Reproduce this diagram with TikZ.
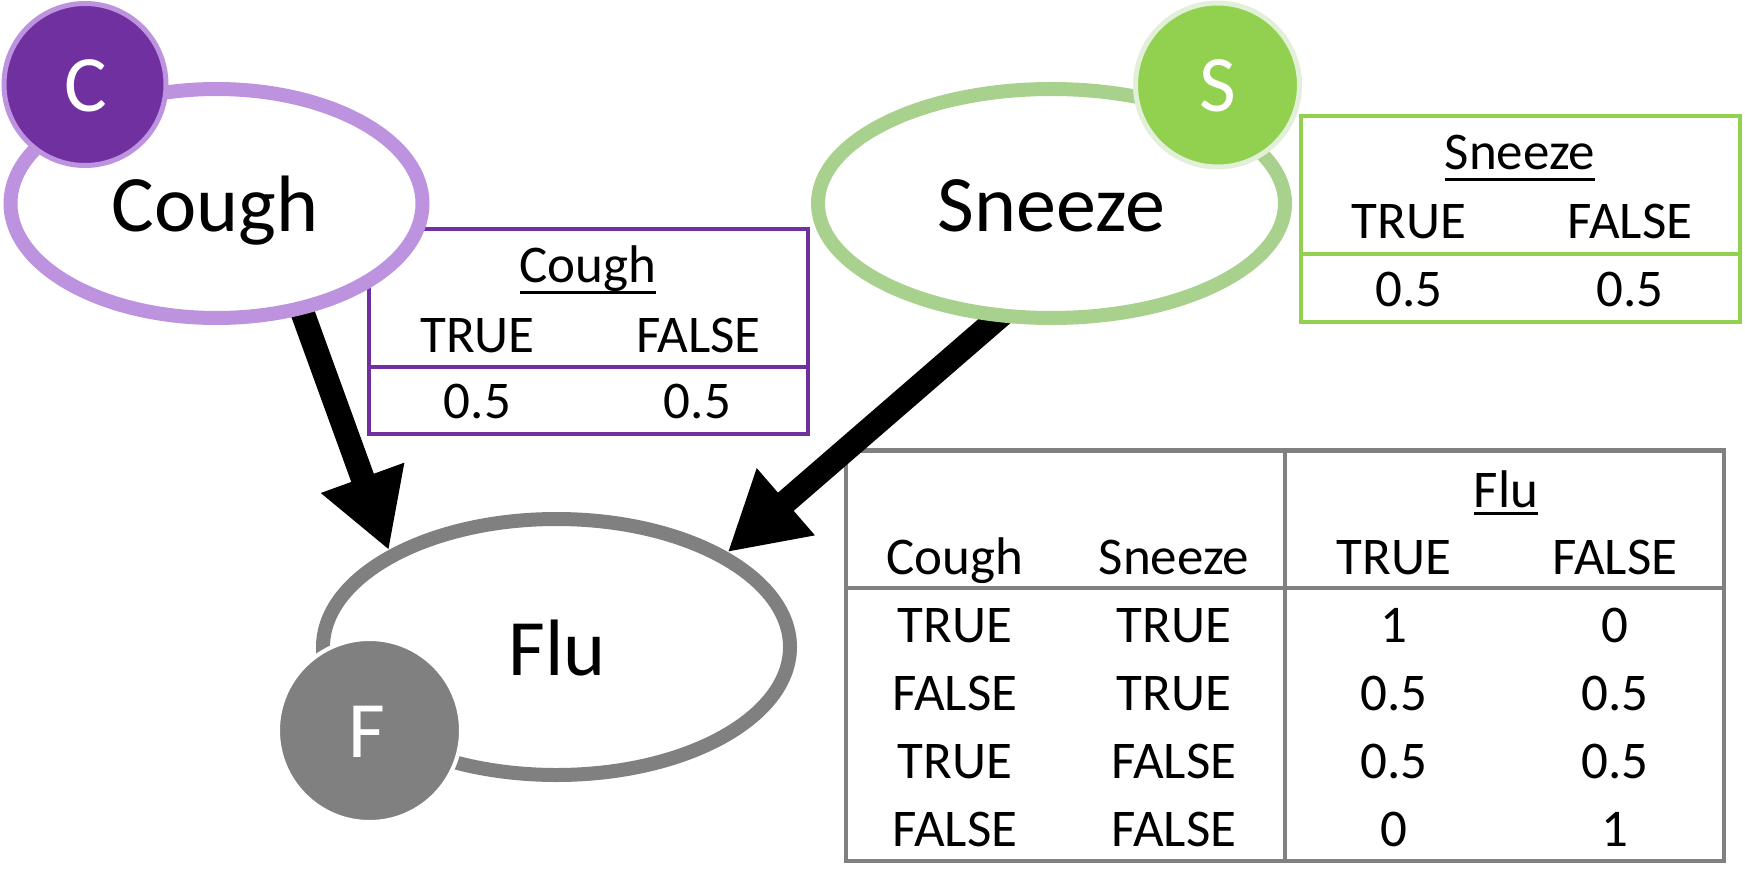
\documentclass[tikz,border=0pt]{standalone}
\usepackage{fontspec}
\setmainfont{Carlito}
\usetikzlibrary{shapes.geometric,arrows.meta,backgrounds}
\definecolor{cpurple}{HTML}{7030A0}
\definecolor{lpurple}{HTML}{BD92DE}
\definecolor{cgreen}{HTML}{92D050}
\definecolor{lgreen}{HTML}{A9D18E}
\definecolor{pgreen}{HTML}{E2F0D9}
\definecolor{cgray}{HTML}{808080}
% underlined table head, #2 = depth of the rule
\newcommand{\ulhead}[2]{\setbox0=\hbox{#1}\rlap{\rule[#2]{\wd0}{3pt}}\box0}
\begin{document}
\begin{tikzpicture}[x=1pt,y=-1pt,
        var/.style={ellipse,draw=#1,line width=14pt,fill=white,inner sep=0pt},
        badge/.style 2 args={circle,fill=#1,draw=#2,line width=5pt,inner sep=0pt},
        big/.style={font=\fontsize{80}{96}\selectfont,inner sep=0pt,anchor=base},
        small/.style={font=\fontsize{53}{64}\selectfont,inner sep=0pt,anchor=base},
        cpt/.style={draw=#1,line width=4.5pt},
        infl/.style={line width=24pt,-{Triangle[length=77pt,width=83pt]},shorten <=-30pt}]
        \useasboundingbox (0,0) rectangle (1745,896);
        % the three variables
        \node[var=lpurple,minimum width=412pt,minimum height=229pt] (cough) at (216.5,203.5) {};
        \node[var=lgreen,minimum width=467pt,minimum height=229pt] (sneeze) at (1051.5,203.5) {};
        \node[var=cgray,minimum width=467pt,minimum height=256pt] (flu) at (556.5,647) {};
        \node[big] (cough-txt) at (215,232) {Cough};
        \node[big] (sneeze-txt) at (1051.5,232) {Sneeze};
        \node[big] (flu-txt) at (557,675) {Flu};
        \node[badge={cpurple}{lpurple},minimum size=162pt] (c) at (85,84.5) {};
        \node[badge={cgreen}{pgreen},minimum size=164pt] (s) at (1217.5,85) {};
        \node[badge={cgray}{white},minimum size=183pt,line width=4pt] (f) at (369.5,730.5) {};
        \node[big,text=white] (c-txt) at (85.5,111.5) {C};
        \node[big,text=white] (s-txt) at (1217.5,112) {S};
        \node[big,text=white] (f-txt) at (367,757) {F};
        \begin{scope}[on background layer]
        % cough table
        \draw[cpt=cpurple,fill=white] (369,229) rectangle ++(439,205);
        \draw[cpt=cpurple] (369,367) -- ++(439,0);
        \node[small] (ct-head) at (588,282) {\ulhead{Cough}{-11.5pt}};
        \node[small] (ct-t) at (477.5,352) {TRUE};
        \node[small] (ct-f) at (698.5,352) {FALSE};
        \node[small] (ct-pt) at (477.5,418) {0.5};
        \node[small] (ct-pf) at (697.5,418) {0.5};
        % sneeze table
        \draw[cpt=cgreen,fill=white] (1301,116) rectangle ++(439,206);
        \draw[cpt=cgreen] (1301,254) -- ++(439,0);
        \node[small] (st-head) at (1520,170) {\ulhead{Sneeze}{-11.5pt}};
        \node[small] (st-t) at (1409,238) {TRUE};
        \node[small] (st-f) at (1630,238) {FALSE};
        \node[small] (st-pt) at (1409,306) {0.5};
        \node[small] (st-pf) at (1630,306) {0.5};
        % flu table
        \draw[cpt=cgray,fill=white] (846,450.5) rectangle ++(878,410.5);
        \draw[cpt=cgray] (846,588) -- ++(878,0);
        \draw[cpt=cgray] (1285,450.5) -- ++(0,410.5);
        \node[small] (ft-head) at (1506,507) {\ulhead{Flu}{-8pt}};
        \node[small] (ft-c) at (955,574) {Cough};
        \node[small] (ft-s) at (1174,574) {Sneeze};
        \node[small] (ft-t) at (1394,574) {TRUE};
        \node[small] (ft-f) at (1615,574) {FALSE};
        \node[small] (ft-c1) at (955,642) {TRUE};
        \node[small] (ft-s1) at (1174,642) {TRUE};
        \node[small] (ft-t1) at (1394,642) {1};
        \node[small] (ft-f1) at (1615,642) {0};
        \node[small] (ft-c2) at (955,710) {FALSE};
        \node[small] (ft-s2) at (1174,710) {TRUE};
        \node[small] (ft-t2) at (1394,710) {0.5};
        \node[small] (ft-f2) at (1615,710) {0.5};
        \node[small] (ft-c3) at (955,778) {TRUE};
        \node[small] (ft-s3) at (1174,778) {FALSE};
        \node[small] (ft-t3) at (1394,778) {0.5};
        \node[small] (ft-f3) at (1615,778) {0.5};
        \node[small] (ft-c4) at (955,846) {FALSE};
        \node[small] (ft-s4) at (1174,846) {FALSE};
        \node[small] (ft-t4) at (1394,846) {0};
        \node[small] (ft-f4) at (1615,846) {1};
        % influences
        \draw[infl] (cough.-52) -- (flu.150);
        \draw[infl] (sneeze.-116) -- (flu.29);
        \end{scope}
\end{tikzpicture}
\end{document}
